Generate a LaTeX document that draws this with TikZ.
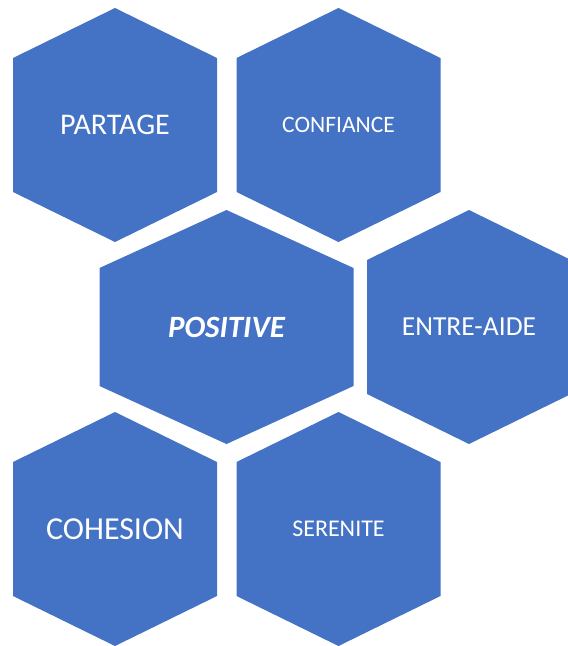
\documentclass[tikz,border=0pt]{standalone}
\usepackage{fontspec}
\setmainfont{Carlito}
\usepackage{tikz}
\usetikzlibrary{positioning}
\definecolor{hexblue}{HTML}{4472C4}
\tikzset{hexfill/.style = {fill = hexblue}}
\tikzset{hexlabel/.style = {text = white, inner sep = 0}}

\begin{document}
\begin{tikzpicture}[x = 1pt, y = -1pt]
      \useasboundingbox (0, 0) rectangle (568, 646);
      \clip (0, 0) rectangle (568, 646);
      \foreach \cx/\cy/\nm/\fs/\txt in {115/125/partage/30/PARTAGE, 338.5/125/confiance/23.5/CONFIANCE, 469/327/entraide/27.5/ENTRE-AIDE, 115/529/cohesion/32/COHESION, 338.5/529/serenite/24/SERENITE} {
        \fill [hexfill] (\cx, \cy - 117) -- ++(102, 50) -- ++(0, 134) -- ++(-102, 50) -- ++(-102, -50) -- ++(0, -134) -- cycle;
        \node [hexlabel, font = \fontsize{\fs}{\fs}\selectfont] (\nm) at (\cx, \cy) {\txt};
      }
      \fill [hexfill] (226.5, 210) -- ++(127, 58) -- ++(0, 118) -- ++(-127, 58) -- ++(-127, -58) -- ++(0, -118) -- cycle;
      \node [hexlabel, font = \fontsize{31}{31}\selectfont\bfseries\itshape] (positive) at (226.5, 327) {POSITIVE};
    \end{tikzpicture}
\end{document}
